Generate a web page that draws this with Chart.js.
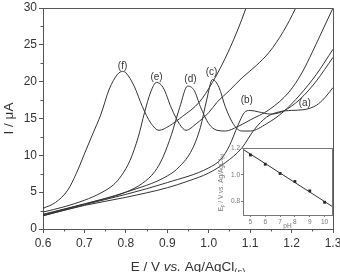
<!DOCTYPE html>
<html lang="en">
<head>
<meta charset="UTF-8">
<title>Voltammogramas e Ep vs pH</title>
<script src="https://cdn.jsdelivr.net/npm/chart.js"></script>
<style>
  html, body { margin: 0; padding: 0; background: #fff; }
  #wrap { position: relative; width: 340px; height: 272px; overflow: hidden; }
  #main { position: absolute; left: 0; top: 0; }
  #inset { position: absolute; left: 213px; top: 142px; }
</style>
</head>
<body>
<div id="wrap">
  <canvas id="main" width="340" height="272"></canvas>
  <canvas id="inset" width="124" height="88"></canvas>
</div>
<script>
// main voltammograms, E (V) and I (uA)
const potA = [0.60, 0.70, 0.80, 0.90, 0.95, 1.00, 1.04, 1.08, 1.11, 1.14, 1.17, 1.20, 1.23, 1.26, 1.28, 1.30];
const curA = [1.8, 3.2, 4.3, 5.6, 6.5, 7.6, 9.0, 11.0, 13.5, 15.2, 15.9, 16.1, 16.2, 16.8, 17.8, 19.2];
const potB = [0.60, 0.70, 0.80, 0.90, 1.00, 1.03, 1.05, 1.07, 1.086, 1.10, 1.12, 1.15, 1.18, 1.22, 1.26, 1.30];
const curB = [1.8, 3.3, 4.7, 6.3, 8.3, 9.5, 11.3, 14.0, 15.8, 16.1, 15.9, 15.6, 16.0, 17.6, 20.1, 23.3];
const potC = [0.60, 0.70, 0.80, 0.90, 0.93, 0.96, 0.98, 0.995, 1.009, 1.025, 1.04, 1.06, 1.08, 1.10, 1.14, 1.18, 1.22, 1.26, 1.30];
const curC = [1.9, 3.4, 5.0, 7.2, 8.5, 10.8, 13.8, 17.5, 20.3, 19.2, 16.6, 14.2, 13.3, 13.3, 14.3, 15.9, 18.2, 21.0, 24.4];
const potD = [0.60, 0.65, 0.70, 0.75, 0.80, 0.84, 0.87, 0.89, 0.91, 0.93, 0.949, 0.965, 0.98, 1.00, 1.02, 1.04, 1.07, 1.10, 1.146, 1.194, 1.225, 1.25, 1.275, 1.30];
const curD = [2.0, 2.7, 3.4, 4.1, 5.0, 6.2, 7.8, 9.8, 12.8, 16.5, 19.4, 18.8, 16.6, 14.3, 13.4, 13.3, 13.9, 14.8, 16.2, 18.6, 21.2, 24.0, 27.0, 30.0];
const potE = [0.60, 0.65, 0.70, 0.74, 0.77, 0.79, 0.81, 0.83, 0.845, 0.86, 0.874, 0.89, 0.91, 0.93, 0.945, 0.97, 1.00, 1.02, 1.05, 1.08, 1.115, 1.146, 1.18, 1.21, 1.23];
const curE = [2.3, 3.0, 3.9, 4.9, 6.0, 7.3, 9.3, 12.5, 15.8, 18.6, 19.9, 19.2, 16.4, 14.2, 13.4, 14.3, 15.8, 17.2, 18.8, 20.5, 22.2, 24.0, 26.8, 30.0, 32.5];
const potF = [0.60, 0.63, 0.66, 0.68, 0.70, 0.72, 0.74, 0.76, 0.78, 0.792, 0.80, 0.82, 0.84, 0.86, 0.88, 0.905, 0.937, 0.977, 1.009, 1.05, 1.09, 1.10];
const curF = [2.8, 3.6, 5.3, 7.5, 10.2, 12.9, 15.6, 19.0, 21.0, 21.4, 21.2, 19.4, 16.6, 14.4, 13.4, 14.0, 15.3, 17.2, 19.9, 24.4, 30.0, 31.8];

const curveNames = ['(a)', '(b)', '(c)', '(d)', '(e)', '(f)'];
const labelPot = [1.232, 1.092, 1.007, 0.956, 0.874, 0.792];
const labelCur = [17.1, 17.5, 21.3, 20.3, 20.6, 22.1];

const potTicks = [0.6, 0.7, 0.8, 0.9, 1.0, 1.1, 1.2, 1.3];
const curTicks = [0, 5, 10, 15, 20, 25, 30];

// inset: peak potential vs pH
const phVals = [5, 6, 7, 8, 9, 10];
const epVals = [1.148, 1.079, 1.01, 0.95, 0.88, 0.795];
const fitPh = [4.5, 10.5];
const fitEp = [1.19, 0.765];
const phTicks = [5, 6, 7, 8, 9, 10];
const epTicks = [0.8, 1.0, 1.2];

const FONT = "'Liberation Sans', Arial, sans-serif";
const INK = '#333';
const AXIS = '#555';

function pts(xs, ys) { return xs.map((x, i) => ({ x: x, y: ys[i] })); }

const series = [[potA, curA], [potB, curB], [potC, curC], [potD, curD], [potE, curE], [potF, curF]];

// draw a run of text pieces: [text, style] where style is '', 'i' or 'sub'
function drawRich(ctx, pieces, size, cx, y, align) {
  const font = (st) => (st === 'i' ? 'italic ' : '') + (st === 'sub' ? size * 0.7 : size) + 'px ' + FONT;
  let total = 0;
  pieces.forEach(p => { ctx.font = font(p[1]); total += ctx.measureText(p[0]).width; });
  let x = align === 'center' ? cx - total / 2 : cx;
  ctx.textAlign = 'left';
  pieces.forEach(p => {
    ctx.font = font(p[1]);
    ctx.fillText(p[0], x, p[1] === 'sub' ? y + size * 0.3 : y);
    x += ctx.measureText(p[0]).width;
  });
}

const mainDeco = {
  id: 'mainDeco',
  afterDraw(chart) {
    const ctx = chart.ctx;
    const a = chart.chartArea;
    const xs = chart.scales.x, ys = chart.scales.y;
    ctx.save();
    ctx.strokeStyle = AXIS;
    ctx.lineWidth = 1;
    ctx.beginPath();
    ctx.moveTo(a.left, a.top + 0.5);
    ctx.lineTo(a.right + 0.5, a.top + 0.5);
    ctx.lineTo(a.right + 0.5, a.bottom);
    ctx.stroke();
    // minor ticks
    ctx.beginPath();
    for (let i = 0; i < potTicks.length - 1; i++) {
      const px = Math.round(xs.getPixelForValue((potTicks[i] + potTicks[i + 1]) / 2)) + 0.5;
      ctx.moveTo(px, a.bottom);
      ctx.lineTo(px, a.bottom + 2.5);
    }
    for (let i = 0; i < curTicks.length - 1; i++) {
      const py = Math.round(ys.getPixelForValue((curTicks[i] + curTicks[i + 1]) / 2)) + 0.5;
      ctx.moveTo(a.left, py);
      ctx.lineTo(a.left - 2.5, py);
    }
    ctx.stroke();
    // curve letters
    ctx.fillStyle = INK;
    ctx.font = '10px ' + FONT;
    ctx.textAlign = 'center';
    ctx.textBaseline = 'middle';
    curveNames.forEach((n, i) => {
      ctx.fillText(n, xs.getPixelForValue(labelPot[i]), ys.getPixelForValue(labelCur[i]));
    });
    // axis titles
    ctx.textBaseline = 'alphabetic';
    drawRich(ctx, [['E / V ', ''], ['vs.', 'i'], [' Ag/AgCl', ''], ['(s)', 'sub']], 13.5, (a.left + a.right) / 2, 271, 'center');
    ctx.translate(9, (a.top + a.bottom) / 2);
    ctx.rotate(-Math.PI / 2);
    ctx.textBaseline = 'middle';
    ctx.textAlign = 'center';
    ctx.font = '13.5px ' + FONT;
    ctx.fillText('I / \u03bcA', 0, 0);
    ctx.restore();
  }
};

new Chart(document.getElementById('main'), {
  type: 'line',
  data: {
    datasets: series.map(s => ({
      data: pts(s[0], s[1]),
      borderColor: INK,
      borderWidth: 1,
      pointRadius: 0,
      fill: false,
      cubicInterpolationMode: 'monotone'
    }))
  },
  options: {
    responsive: false,
    animation: false,
    devicePixelRatio: 1,
    layout: { padding: { left: 0, right: 7, top: 8, bottom: 0 } },
    plugins: { legend: { display: false }, tooltip: { enabled: false } },
    scales: {
      x: {
        type: 'linear', min: 0.6, max: 1.3,
        afterBuildTicks: s => { s.ticks = potTicks.map(v => ({ value: v })); },
        afterFit: s => { s.height = 43; s.paddingLeft = 0; s.paddingRight = 0; },
        grid: { drawOnChartArea: false, tickLength: 4, color: AXIS },
        border: { color: AXIS, width: 1 },
        ticks: { color: INK, padding: 3, maxRotation: 0, autoSkip: false,
          font: { family: FONT, size: 12 }, callback: v => v.toFixed(1) }
      },
      y: {
        type: 'linear', min: 0, max: 30,
        afterBuildTicks: s => { s.ticks = curTicks.map(v => ({ value: v })); },
        afterFit: s => { s.width = 43; s.paddingTop = 0; s.paddingBottom = 0; },
        grid: { drawOnChartArea: false, tickLength: 4, color: AXIS },
        border: { color: AXIS, width: 1 },
        ticks: { color: INK, padding: 2, autoSkip: false, font: { family: FONT, size: 12 } }
      }
    }
  },
  plugins: [mainDeco]
});

const insetDeco = {
  id: 'insetDeco',
  beforeDatasetsDraw(chart) {
    const a = chart.chartArea, ctx = chart.ctx;
    ctx.save();
    ctx.fillStyle = '#fff';
    ctx.fillRect(a.left, a.top, a.right - a.left, a.bottom - a.top);
    ctx.restore();
  },
  afterDraw(chart) {
    const a = chart.chartArea, ctx = chart.ctx;
    ctx.save();
    ctx.strokeStyle = '#777';
    ctx.lineWidth = 1;
    ctx.strokeRect(a.left + 0.5, a.top + 0.5, a.right - a.left, a.bottom - a.top);
    ctx.fillStyle = '#777';
    ctx.font = '6.5px ' + FONT;
    ctx.textAlign = 'center';
    ctx.textBaseline = 'middle';
    ctx.fillText('pH', (a.left + a.right) / 2, 84);
    ctx.translate(8, (a.top + a.bottom) / 2 + 1);
    ctx.rotate(-Math.PI / 2);
    drawRich(ctx, [['E', ''], ['p', 'sub'], [' / V ', ''], ['vs.', 'i'], [' Ag/AgCl', ''], ['(s)', 'sub']], 6.5, 0, 0, 'center');
    ctx.restore();
  }
};

new Chart(document.getElementById('inset'), {
  type: 'scatter',
  data: {
    datasets: [
      { data: pts(fitPh, fitEp), showLine: true, borderColor: INK, borderWidth: 1, pointRadius: 0 },
      { data: pts(phVals, epVals), pointStyle: 'rect', pointRadius: 2, backgroundColor: '#222', borderColor: '#222', borderWidth: 0 }
    ]
  },
  options: {
    responsive: false,
    animation: false,
    devicePixelRatio: 1,
    layout: { padding: { left: 0, right: 5, top: 6, bottom: 0 } },
    plugins: { legend: { display: false }, tooltip: { enabled: false } },
    scales: {
      x: {
        type: 'linear', min: 4.5, max: 10.5,
        afterBuildTicks: s => { s.ticks = phTicks.map(v => ({ value: v })); },
        afterFit: s => { s.height = 15; s.paddingLeft = 0; s.paddingRight = 0; },
        grid: { drawOnChartArea: false, tickLength: 2, color: '#777' },
        border: { color: '#777' },
        ticks: { color: '#777', padding: 1, maxRotation: 0, autoSkip: false, font: { family: FONT, size: 6.5 } }
      },
      y: {
        type: 'linear', min: 0.7, max: 1.2,
        afterBuildTicks: s => { s.ticks = epTicks.map(v => ({ value: v })); },
        afterFit: s => { s.width = 30; s.paddingTop = 0; s.paddingBottom = 0; },
        grid: { drawOnChartArea: false, tickLength: 2, color: '#777' },
        border: { color: '#777' },
        ticks: { color: '#777', padding: 1, autoSkip: false, font: { family: FONT, size: 6.5 },
          callback: v => v.toFixed(1) }
      }
    }
  },
  plugins: [insetDeco]
});
</script>
</body>
</html>
